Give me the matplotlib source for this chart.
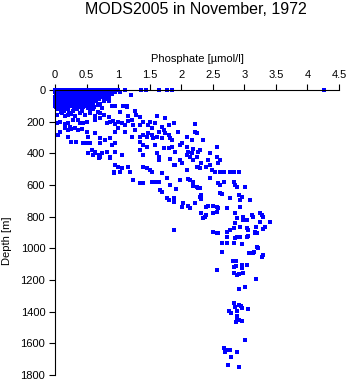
import numpy as np
import matplotlib
matplotlib.use('Agg')
import matplotlib.pyplot as plt

plt.rcParams['font.family'] = ['Liberation Sans', 'DejaVu Sans']

title = 'MODS2005 in November, 1972'
x_label = 'Phosphate [µmol/l]'
y_label = 'Depth [m]'
x_ticks = [0, 0.5, 1, 1.5, 2, 2.5, 3, 3.5, 4, 4.5]
x_tick_labels = ['0', '0.5', '1', '1.5', '2', '2.5', '3', '3.5', '4', '4.5']
y_ticks = [0, 200, 400, 600, 800, 1000, 1200, 1400, 1600, 1800]

# dense surface layer (0-150 m), read row by row
surf_x = [
    0.00, 0.04, 0.08, 0.12, 0.16, 0.20, 0.24, 0.28, 0.32, 0.36, 0.40, 0.44, 0.48, 0.52, 0.56, 0.60,
    0.64, 0.68, 0.72, 0.76, 0.80, 0.84, 0.88, 0.92, 0.96, 1.00, 1.11, 1.36, 1.44, 1.64, 1.77, 1.85, 4.27,
    0.00, 0.05, 0.10, 0.15, 0.20, 0.25, 0.30, 0.35, 0.40, 0.45, 0.50, 0.55, 0.60, 0.65, 0.70, 0.75,
    0.80, 0.85, 0.90, 0.95, 1.03,
    0.01, 0.06, 0.11, 0.16, 0.21, 0.26, 0.31, 0.36, 0.41, 0.46, 0.51, 0.56, 0.61, 0.66, 0.71, 0.76,
    0.81, 0.86, 0.91, 1.21,
    0.00, 0.05, 0.10, 0.15, 0.20, 0.25, 0.30, 0.35, 0.40, 0.45, 0.50, 0.55, 0.60, 0.65, 0.70, 0.75,
    0.80, 0.85,
    0.00, 0.05, 0.10, 0.15, 0.20, 0.25, 0.30, 0.35, 0.40, 0.45, 0.50, 0.55, 0.60, 0.65, 0.70, 0.80,
    0.00, 0.05, 0.10, 0.15, 0.20, 0.25, 0.30, 0.35, 0.40, 0.45, 0.50, 0.55, 0.60, 0.65, 0.78, 0.86,
    0.00, 0.05, 0.10, 0.15, 0.20, 0.25, 0.30, 0.35, 0.40, 0.45, 0.50, 0.55, 0.60, 0.72, 1.14,
    0.00, 0.05, 0.10, 0.15, 0.20, 0.25, 0.30, 0.35, 0.40, 0.45, 0.50, 0.55, 0.68, 0.90,
    0.02, 0.08, 0.14, 0.20, 0.30, 0.38, 0.45, 0.52, 0.62, 0.75, 1.26,
    0.05, 0.12, 0.20, 0.28, 0.35, 0.42, 0.55, 0.60, 0.68, 0.10, 0.22, 0.15,
]
surf_d = [
    0, 0, 0, 0, 0, 0, 0, 0, 0, 0, 0, 0, 0, 0, 0, 0,
    0, 0, 0, 0, 0, 0, 0, 0, 0, 0, 2, 0, 0, 0, 0, 0, 0,
    14, 14, 14, 14, 14, 14, 14, 14, 14, 14, 14, 14, 14, 14, 14, 14,
    14, 14, 14, 14, 14,
    28, 28, 28, 28, 28, 28, 28, 28, 28, 28, 28, 28, 28, 28, 28, 28,
    28, 28, 28, 32,
    42, 42, 42, 42, 42, 42, 42, 42, 42, 42, 42, 42, 42, 42, 42, 42,
    42, 42,
    56, 56, 56, 56, 56, 56, 56, 56, 56, 56, 56, 56, 56, 56, 56, 56,
    70, 70, 70, 70, 70, 70, 70, 70, 70, 70, 70, 70, 70, 70, 72, 68,
    84, 84, 84, 84, 84, 84, 84, 84, 84, 84, 84, 84, 84, 86, 105,
    98, 98, 98, 98, 98, 98, 98, 98, 98, 98, 98, 98, 96, 100,
    110, 112, 110, 108, 112, 110, 108, 112, 110, 114, 133,
    120, 125, 118, 130, 122, 135, 128, 120, 140, 140, 145, 135,
]

# thermocline 120-600 m
mid_x = [
    0.03, 0.11, 0.16, 0.21, 0.26, 0.32, 0.40, 0.48, 0.55, 0.63, 0.71, 0.77, 0.85, 0.95, 1.03, 1.08,
    1.14, 1.16, 1.27, 1.29, 1.35, 1.61, 1.75,
    0.03, 0.08, 0.16, 0.21, 0.24, 0.29, 0.37, 0.40, 0.45, 0.50, 0.63, 0.71, 0.82, 0.87, 0.92, 0.95,
    1.00, 1.06, 1.11, 1.16, 1.22, 1.24, 1.27, 1.35, 1.40, 1.48, 1.51, 1.53, 1.58, 1.69, 1.72, 1.80,
    1.88, 2.22,
    0.05, 0.08, 0.16, 0.21, 0.26, 0.32, 0.37, 0.42, 0.50, 0.53, 0.63, 0.71, 0.79, 0.87, 0.95, 1.00,
    1.11, 1.22, 1.35, 1.40, 1.45, 1.48, 1.53, 1.56, 1.61, 1.64, 1.69, 1.74, 1.80, 1.82, 1.85, 1.95,
    2.09, 2.17, 2.22, 2.25, 2.35,
    0.21, 0.26, 0.34, 0.45, 0.50, 0.55, 0.58, 0.63, 0.71, 0.74, 0.71, 0.82, 0.90, 0.95, 1.35, 1.40,
    1.45, 1.58, 1.61, 1.72, 1.80, 1.85, 1.90, 1.98, 2.01, 2.09, 2.11, 2.17, 2.19, 2.27, 2.30, 2.46,
    2.56,
    0.53, 0.61, 0.63, 0.70, 0.70, 0.87, 0.87, 0.95, 1.06, 1.35, 1.40, 1.64, 1.64, 1.82, 1.90, 1.98,
    2.09, 2.14, 2.19, 2.25, 2.27, 2.32, 2.43, 2.56, 2.61, 2.59, 2.46,
    0.95, 1.00, 1.03, 1.06, 1.16, 1.19, 1.40, 1.45, 1.51, 1.53, 1.69, 1.88, 2.01, 2.09, 2.25, 2.30,
    2.40, 2.48, 2.54, 2.61, 2.67, 2.77, 2.83, 2.91, 0.93, 0.93, 2.46, 1.24, 1.53, 1.35, 1.60,
]
mid_d = [
    158, 147, 164, 158, 152, 164, 147, 158, 147, 164, 147, 158, 168, 101, 137, 101,
    101, 164, 133, 158, 168, 162, 179,
    211, 200, 215, 206, 232, 190, 190, 211, 211, 200, 190, 179, 211, 200, 194, 215,
    204, 211, 221, 196, 190, 221, 253, 221, 200, 221, 200, 242, 211, 232, 253, 221,
    211, 217,
    284, 263, 242, 253, 248, 242, 253, 248, 263, 295, 274, 305, 316, 305, 263, 242,
    263, 295, 295, 284, 295, 274, 284, 305, 295, 263, 305, 274, 284, 305, 316, 267,
    295, 316, 267, 269, 316,
    295, 326, 326, 337, 337, 337, 379, 400, 337, 400, 421, 389, 347, 337, 326, 347,
    358, 347, 400, 368, 368, 358, 389, 347, 337, 358, 389, 400, 375, 389, 379, 400,
    358,
    400, 410, 389, 410, 432, 432, 421, 389, 410, 379, 410, 421, 442, 438, 474, 442,
    410, 421, 442, 421, 484, 463, 442, 421, 442, 463, 474,
    474, 484, 516, 495, 484, 516, 484, 495, 505, 516, 526, 474, 463, 505, 484, 495,
    484, 505, 516, 516, 516, 516, 516, 516, 526, 516, 558, 568, 579, 585, 579,
]

# deep water below 550 m
deep_x = [
    1.40, 1.64, 1.82, 1.98, 2.11, 2.19, 2.25, 2.30, 2.59, 2.61, 2.67, 2.83, 2.85, 2.88, 3.01, 1.66,
    1.91, 1.77, 2.14, 2.19, 2.27,
    1.69, 1.77, 1.80, 1.88, 1.88, 2.01, 2.03, 2.11, 2.14, 2.22, 2.30, 2.32, 2.32, 2.40, 2.43, 2.51,
    2.56, 2.61, 2.64, 2.77, 2.92, 2.93, 2.96, 3.09, 2.93, 2.72,
    2.32, 2.35, 2.38, 2.40, 2.51, 2.56, 2.59, 2.85, 2.88, 2.98, 3.04, 3.12, 3.14, 3.25, 3.28, 3.30,
    3.41,
    1.88, 2.51, 2.56, 2.59, 2.72, 2.77, 2.83, 2.85, 2.93, 2.98, 3.04, 3.06, 3.17, 3.19, 3.20, 3.25,
    3.30, 3.33,
    2.64, 2.72, 2.72, 2.83, 2.85, 2.88, 2.93, 2.96, 3.04, 3.17, 3.20, 3.22, 3.06,
    2.64, 3.08, 3.14, 3.15, 3.29, 3.28, 2.82, 2.87, 2.83, 2.87, 2.96, 2.97, 3.05, 2.57, 2.83, 2.88,
    2.92, 2.98, 3.19, 3.01, 2.91,
    2.83, 2.85, 2.92, 2.94, 2.97, 3.06, 2.76, 2.79, 2.89, 2.88, 2.89, 2.92, 2.96, 2.87,
    3.01, 2.68, 2.71, 2.69, 2.78, 2.88, 2.79, 2.74, 2.91,
]
deep_d = [
    590, 579, 600, 568, 564, 579, 610, 621, 590, 600, 579, 579, 600, 615, 615, 632,
    627, 558, 568, 606, 617,
    642, 684, 695, 684, 705, 737, 716, 733, 747, 712, 674, 663, 690, 737, 733, 733,
    737, 653, 659, 684, 663, 695, 674, 695, 737, 747,
    779, 810, 800, 789, 779, 768, 747, 779, 810, 800, 821, 789, 800, 779, 789, 800,
    831,
    884, 895, 905, 901, 895, 884, 874, 842, 863, 821, 874, 884, 895, 863, 901, 831,
    880, 863,
    968, 926, 964, 968, 937, 926, 926, 972, 926, 905, 989, 1000, 922,
    1025, 1032, 1032, 1021, 1042, 1053, 1078, 1078, 1116, 1112, 1105, 1126, 1105, 1137, 1158, 1166,
    1164, 1158, 1196, 1242, 1259,
    1347, 1368, 1358, 1364, 1379, 1385, 1394, 1406, 1394, 1427, 1453, 1453, 1457, 1463,
    1579, 1632, 1642, 1653, 1642, 1653, 1688, 1737, 1747,
]

phosphate = np.array(surf_x + mid_x + deep_x)
depth = np.array(surf_d + mid_d + deep_d)

fig = plt.figure(figsize=(3.5, 3.84), dpi=100)
ax = fig.add_axes([55 / 350, 1 - 375 / 384, 284 / 350, 285 / 384])

ax.plot(phosphate, depth, 's', color='#0000ff', markersize=2.2,
        markeredgewidth=0, linestyle='none', clip_on=False)

ax.set_xlim(0, 4.5)
ax.set_ylim(1800, 0)
ax.xaxis.tick_top()
ax.xaxis.set_label_position('top')
ax.spines['bottom'].set_visible(False)
ax.spines['right'].set_visible(False)
for s in ['top', 'left']:
    ax.spines[s].set_linewidth(0.8)

ax.set_xticks(x_ticks)
ax.set_xticklabels(x_tick_labels)
ax.set_yticks(y_ticks)
ax.tick_params(direction='out', length=4, width=0.8, labelsize=8, pad=3, colors='black')

ax.set_xlabel(x_label, fontsize=8)
ax.xaxis.set_label_coords(0.5, 1.1)
ax.set_ylabel(y_label, fontsize=8)
ax.yaxis.set_label_coords(-0.15, 0.47)

fig.text(196 / 350, 1 - 10 / 384, title, ha='center', va='center', fontsize=11.5)

fig.savefig('out.png', dpi=100)
